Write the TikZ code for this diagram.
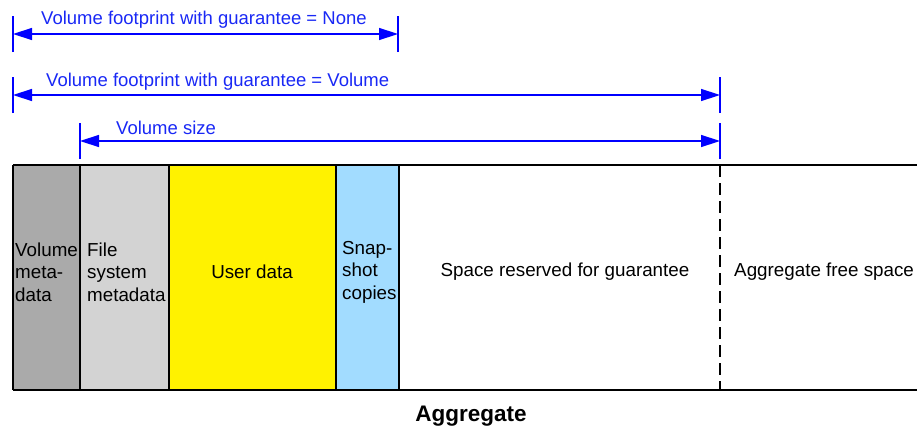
\documentclass[tikz,border=0pt]{standalone}
\usepackage{fontspec}
\setmainfont{Liberation Sans}
\usetikzlibrary{arrows.meta}

\definecolor{metagray}{RGB}{170,170,170}
\definecolor{fsgray}{RGB}{211,211,211}
\definecolor{snapblue}{RGB}{162,220,255}
\definecolor{dimblue}{RGB}{0,0,255}
\definecolor{dimtext}{RGB}{25,40,245}

\begin{document}
\begin{tikzpicture}[x=1pt,y=-1pt]
			\tikzstyle{cell}=[rectangle,inner sep=0pt,minimum height=225pt,anchor=north west]
			\tikzstyle{celltext}=[font=\fontsize{18.8}{22.5}\selectfont,align=left,inner sep=0pt]
			\tikzstyle{border}=[line width=2pt]
			\tikzstyle{tick}=[dimblue,line width=1.4pt]
			\tikzstyle{dim}=[dimblue,line width=1.4pt,{Triangle[length=19pt,width=12pt]}-{Triangle[length=19pt,width=12pt]}]
			\tikzstyle{dimlabel}=[font=\fontsize{18.5}{22.5}\selectfont,text=dimtext,anchor=base west,inner sep=0pt]
			\useasboundingbox (0,0) rectangle (917,431);

			% aggregate cells
			\foreach \name/\x/\w/\col in {vmeta/13/67/metagray, fsmeta/80/89/fsgray, user/169/167/yellow, snap/336/63/snapblue, resv/399/321/white, free/720/197/white}
				\node[cell,fill=\col,minimum width=\w pt] (\name) at (\x,165) {};

			\draw[border] (vmeta.north west) -- (free.north east);
			\draw[border] (vmeta.south west) -- (free.south east);
			\foreach \name in {vmeta,fsmeta,user,snap,resv}
				\draw[border] (\name.north west) -- (\name.south west);
			\draw[border,line width=2.6pt,dash pattern=on 12pt off 6pt] (free.north west) -- (free.south west);

			\node[celltext,anchor=west] (vmetatxt) at (15,272) {Volume\\meta-\\data};
			\node[celltext,anchor=west] (fsmetatxt) at (87,272) {File\\system\\metadata};
			\node[celltext] (usertxt) at (252,272) {User data};
			\node[celltext,anchor=west] (snaptxt) at (342,272) {Snap-\\shot\\copies};
			\node[celltext] (resvtxt) at (565,272) {Space reserved for guarantee};
			\node[celltext,anchor=west] (freetxt) at (734,272) {Aggregate free space};
			\node[celltext,font=\fontsize{22.5}{26}\selectfont\bfseries] (aggtxt) at (471,416) {Aggregate};

			% dimension lines
			\coordinate (n1) at (13,34);  \coordinate (n2) at (398,34);
			\coordinate (g1) at (13,95);  \coordinate (g2) at (720,95);
			\coordinate (s1) at (80,141); \coordinate (s2) at (720,141);
			\foreach \c in {n1,n2,g1,g2,s1,s2}
				\draw[tick] ([yshift=-18pt]\c) -- ([yshift=18pt]\c);
			\draw[dim] (n1) -- (n2);
			\draw[dim] (g1) -- (g2);
			\draw[dim] (s1) -- (s2);

			\node[dimlabel] (nonetxt) at (41,24) {Volume footprint with guarantee = None};
			\node[dimlabel] (voltxt) at (46,86) {Volume footprint with guarantee = Volume};
			\node[dimlabel] (sizetxt) at (116,134) {Volume size};
		\end{tikzpicture}
\end{document}
